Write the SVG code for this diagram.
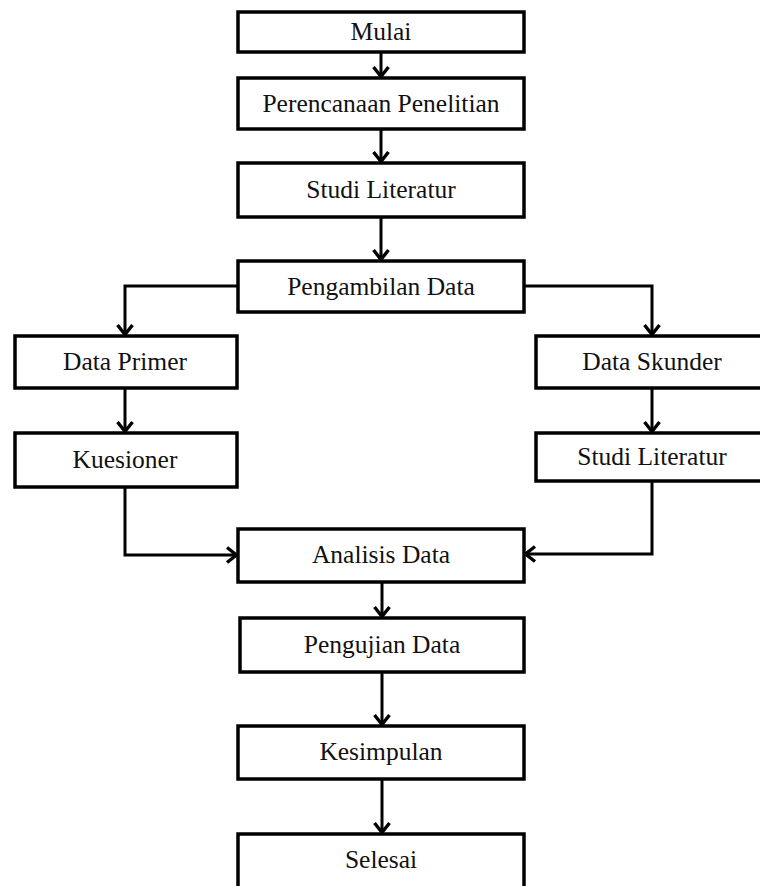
<svg xmlns="http://www.w3.org/2000/svg" width="760" height="886" viewBox="0 0 760 886">
<style>
.box{fill:#fff;stroke:#000;stroke-width:3.5}
.lbl{font-family:"Liberation Serif","Times New Roman",serif;font-size:25.5px;fill:#111;text-anchor:middle}
.con{fill:none;stroke:#000;stroke-width:3;marker-end:url(#arr)}
</style>
<defs>
<marker id="arr" viewBox="0 0 16 20" refX="13" refY="10" markerWidth="16" markerHeight="20" markerUnits="userSpaceOnUse" orient="auto">
<path d="M3,2.5 L12.5,10 L3,17.5" fill="none" stroke="#000" stroke-width="3.4"/>
</marker>
</defs>
<rect width="760" height="886" fill="#fff"/>
<g id="connectors">
<path class="con" d="M381,52 V77"/>
<path class="con" d="M381,129 V162"/>
<path class="con" d="M381,217 V260"/>
<path class="con" d="M238,286 H125 V335"/>
<path class="con" d="M524,286 H652 V335"/>
<path class="con" d="M125,388 V432"/>
<path class="con" d="M652,388 V432"/>
<path class="con" d="M125,487 V555 H237"/>
<path class="con" d="M652,481 V554 H525"/>
<path class="con" d="M382,582 V617"/>
<path class="con" d="M382,672 V725"/>
<path class="con" d="M382,779 V833"/>
</g>
<g id="mulai"><rect class="box" x="238" y="12" width="286" height="40"/><text class="lbl" x="381" y="40">Mulai</text></g>
<g id="perencanaan"><rect class="box" x="238" y="78" width="286" height="51"/><text class="lbl" x="381" y="112">Perencanaan Penelitian</text></g>
<g id="studi1"><rect class="box" x="238" y="163" width="286" height="54"/><text class="lbl" x="381" y="198">Studi Literatur</text></g>
<g id="pengambilan"><rect class="box" x="238" y="261" width="286" height="51"/><text class="lbl" x="381" y="295">Pengambilan Data</text></g>
<g id="primer"><rect class="box" x="15" y="336" width="222" height="52"/><text class="lbl" x="125" y="370">Data Primer</text></g>
<g id="kuesioner"><rect class="box" x="15" y="433" width="222" height="54"/><text class="lbl" x="125" y="468">Kuesioner</text></g>
<g id="skunder"><rect class="box" x="536" y="336" width="232" height="52"/><text class="lbl" x="652" y="370">Data Skunder</text></g>
<g id="studi2"><rect class="box" x="536" y="433" width="232" height="48"/><text class="lbl" x="652" y="465">Studi Literatur</text></g>
<g id="analisis"><rect class="box" x="238" y="529" width="286" height="53"/><text class="lbl" x="381" y="563">Analisis Data</text></g>
<g id="pengujian"><rect class="box" x="240" y="618" width="284" height="54"/><text class="lbl" x="382" y="653">Pengujian Data</text></g>
<g id="kesimpulan"><rect class="box" x="238" y="726" width="286" height="53"/><text class="lbl" x="381" y="760">Kesimpulan</text></g>
<g id="selesai"><rect class="box" x="238" y="834" width="286" height="60"/><text class="lbl" x="381" y="868">Selesai</text></g>
</svg>
